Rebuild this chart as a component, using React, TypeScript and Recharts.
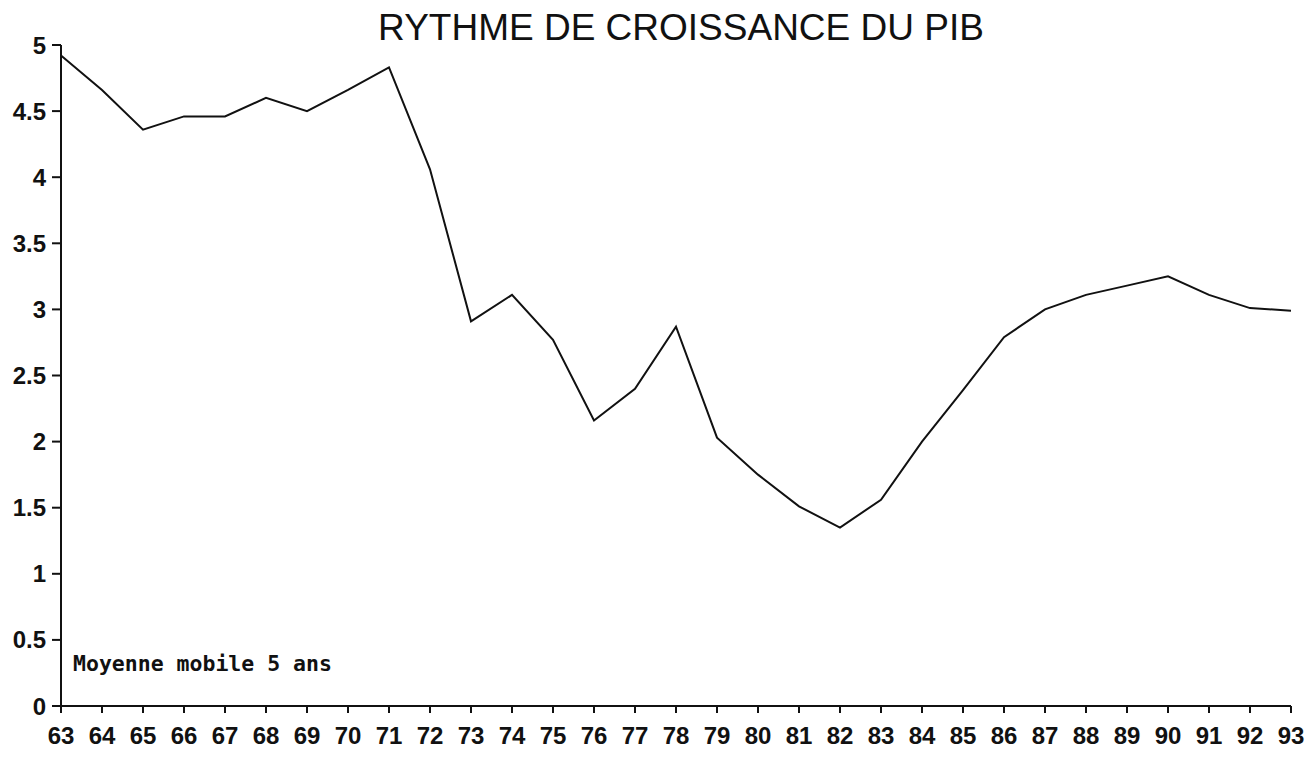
import React from 'react';
import { LineChart, Line, XAxis, YAxis } from 'recharts';

const years: string[] = ['63','64','65','66','67','68','69','70','71','72','73','74','75','76','77','78','79','80','81','82','83','84','85','86','87','88','89','90','91','92','93'];
const growth: number[] = [4.92,4.66,4.36,4.46,4.46,4.60,4.50,4.66,4.83,4.06,2.91,3.11,2.77,2.16,2.40,2.87,2.03,1.75,1.51,1.35,1.56,2.00,2.39,2.79,3.00,3.11,3.18,3.25,3.11,3.01,2.99];
const yTicks: number[] = [0,0.5,1,1.5,2,2.5,3,3.5,4,4.5,5];
const title = 'RYTHME DE CROISSANCE DU PIB';
const note = 'Moyenne mobile 5 ans';

const data = years.map((y, i) => ({ year: y, v: growth[i] }));

const fmt = (v: number) => String(v);
const tickFont = { fill: '#111', fontSize: 24, fontWeight: 700, fontFamily: 'Liberation Sans, Arial, sans-serif' };

export default function App() {
  return (
    <div style={{ position: 'absolute', left: 0, top: 0, width: 1313, height: 757, background: '#fff' }}>
      <LineChart width={1313} height={757} data={data} margin={{ top: 45, right: 22, bottom: 0, left: 0 }}>
        <XAxis
          dataKey="year"
          interval={0}
          tickSize={7}
          tickMargin={14}
          height={51}
          stroke="#111"
          strokeWidth={2}
          tick={tickFont}
        />
        <YAxis
          domain={[0, 5]}
          ticks={yTicks}
          tickFormatter={fmt}
          width={61}
          tickSize={9}
          tickMargin={6}
          stroke="#111"
          strokeWidth={2}
          tick={tickFont}
        />
        <Line type="linear" dataKey="v" stroke="#111" strokeWidth={2} dot={false} isAnimationActive={false} />
      </LineChart>
      <div style={{ position: 'absolute', left: 0, width: 1362, top: 8, textAlign: 'center', fontFamily: 'Liberation Sans, Arial, sans-serif', fontSize: 37, color: '#111', lineHeight: '40px' }}>{title}</div>
      <div style={{ position: 'absolute', left: 73, top: 652, fontFamily: 'DejaVu Sans Mono, monospace', fontSize: 21.5, fontWeight: 700, color: '#111', lineHeight: '24px', whiteSpace: 'pre' }}>{note}</div>
    </div>
  );
}
